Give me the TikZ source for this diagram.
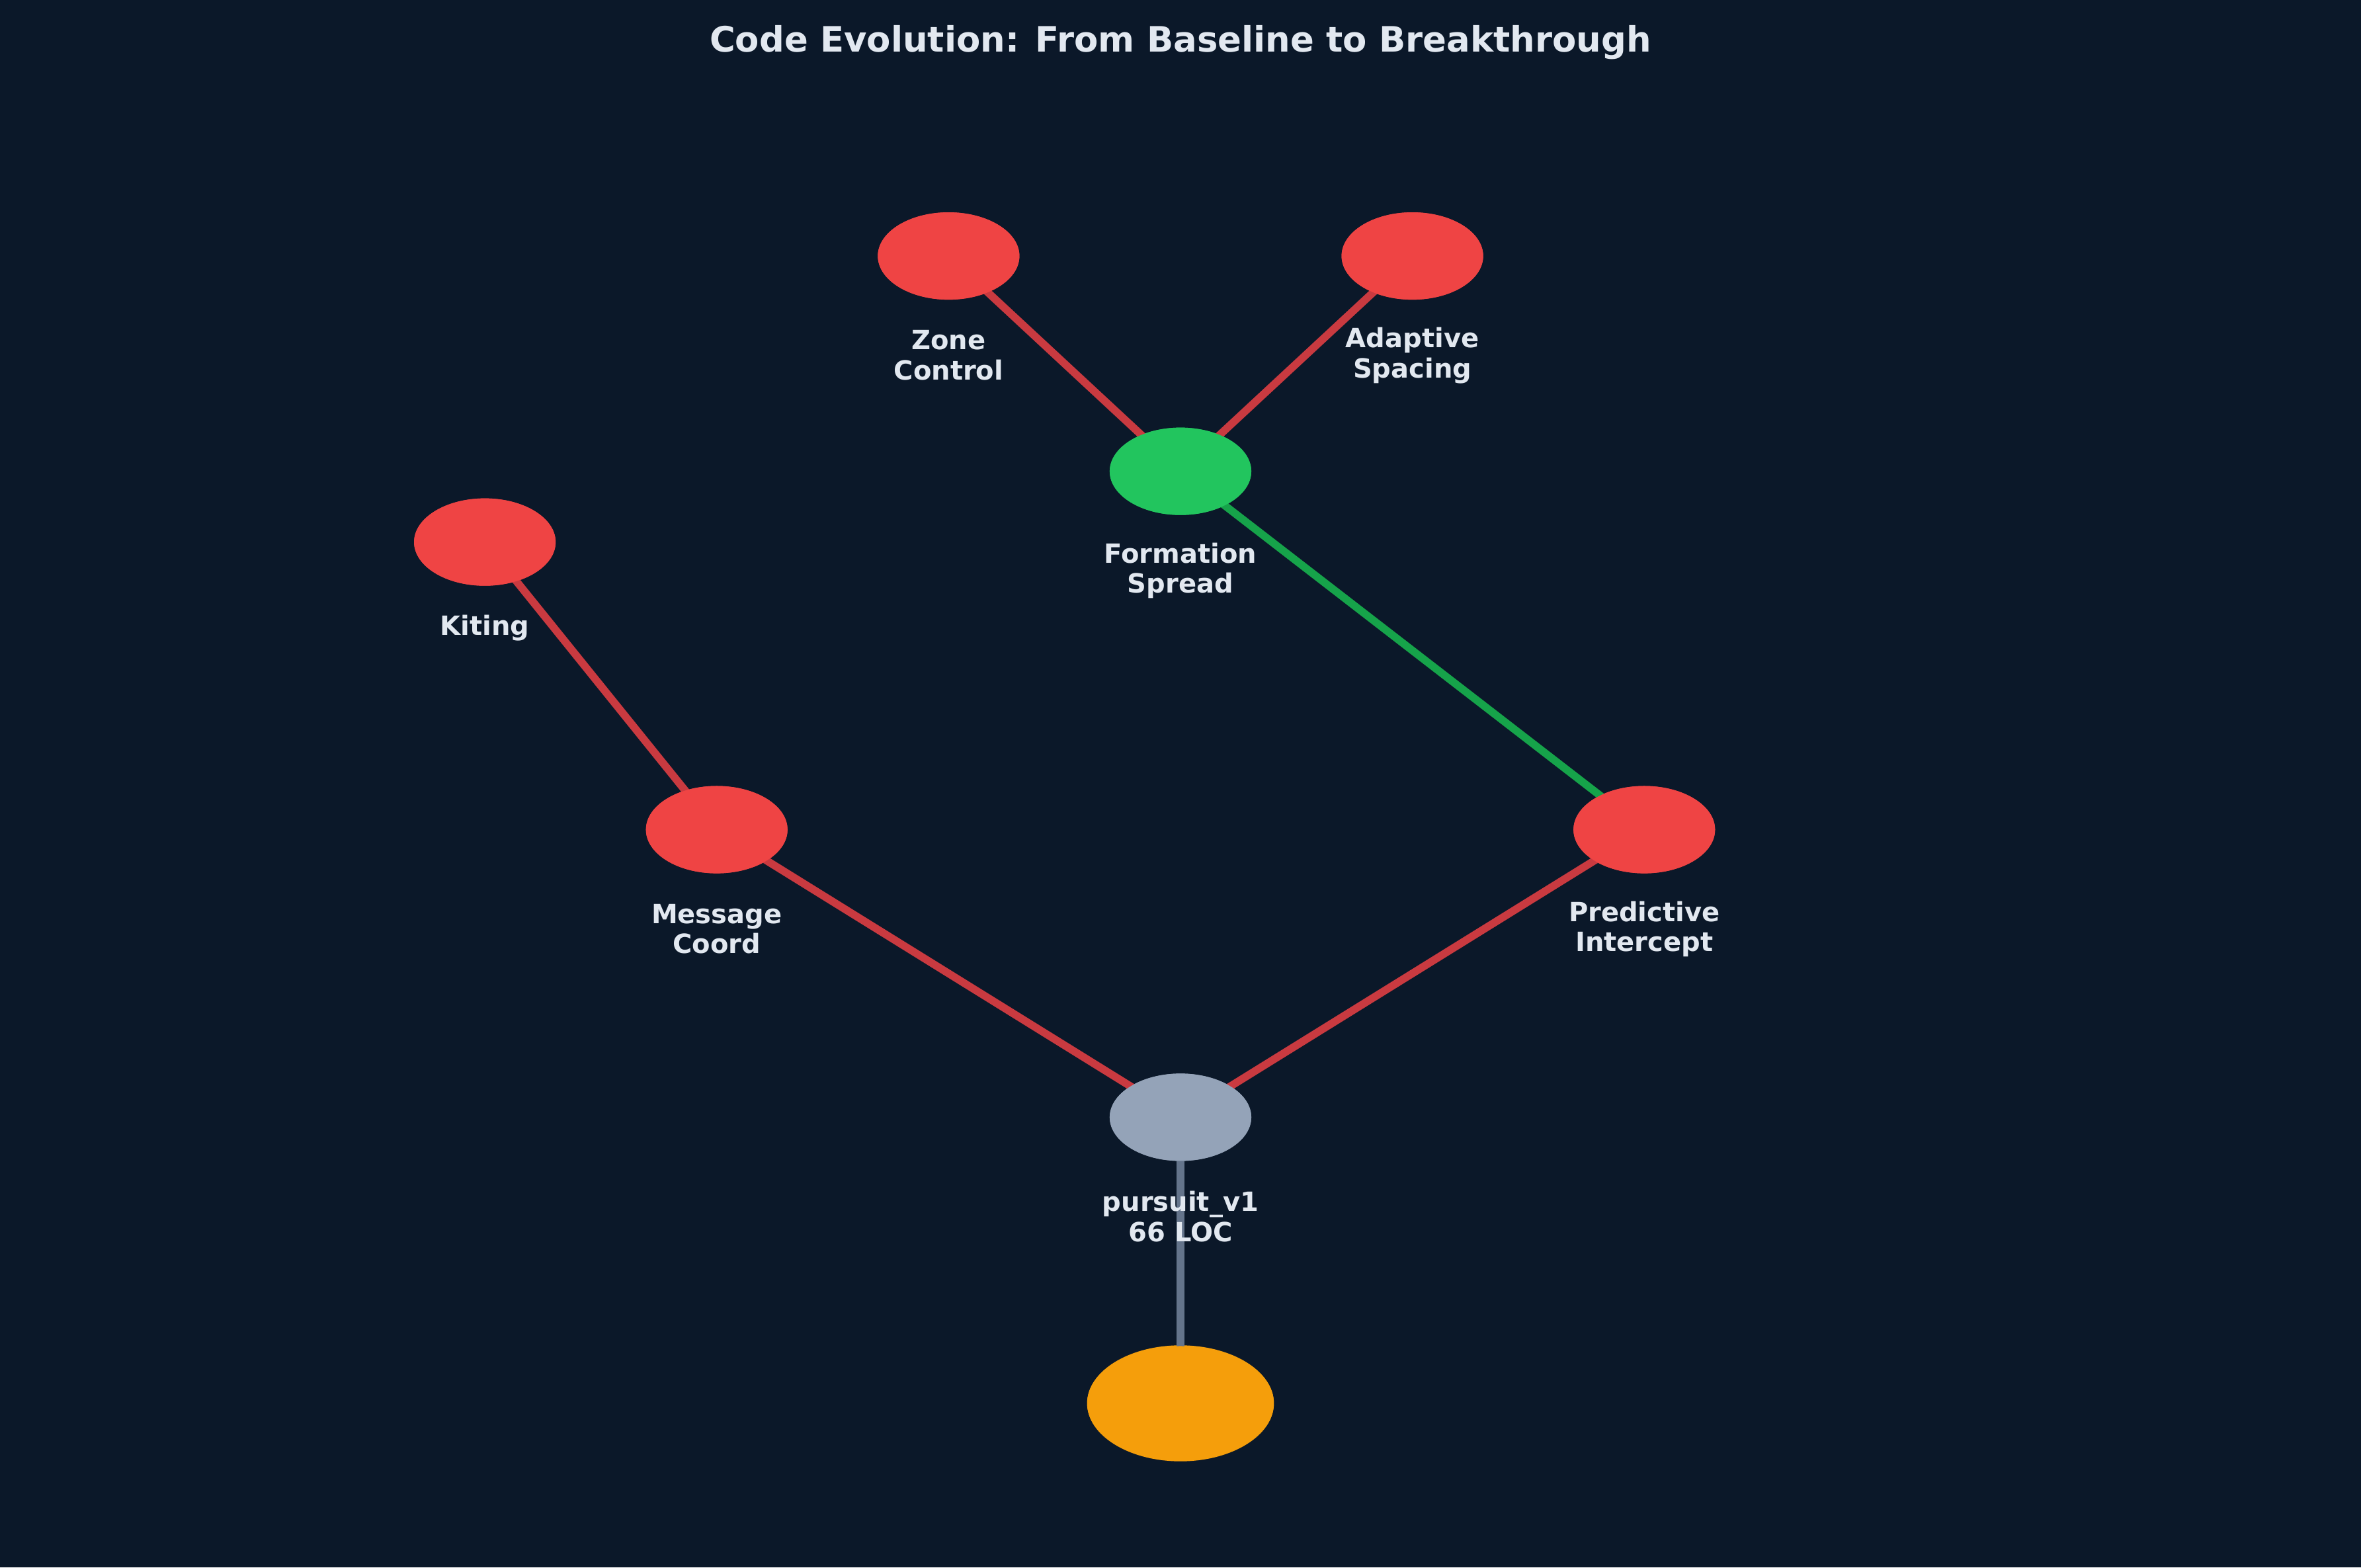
\documentclass[tikz,border=0pt]{standalone}
\usepackage{fontspec}
\setmainfont{DejaVu Sans}
\usetikzlibrary{shapes.geometric}
\definecolor{bgc}{HTML}{0B1829}
\definecolor{txtc}{HTML}{E2E8F0}
\definecolor{redn}{HTML}{EF4444}
\definecolor{rede}{HTML}{C93A40}
\definecolor{grnn}{HTML}{22C55E}
\definecolor{grne}{HTML}{16A34A}
\definecolor{gryn}{HTML}{94A3B8}
\definecolor{grye}{HTML}{64748B}
\definecolor{orgn}{HTML}{F59E0B}
\tikzset{
  blob/.style={ellipse,draw=none,minimum width=0.94cm,minimum height=0.58cm,inner sep=0pt},
  lbl/.style={text=txtc,font=\fontsize{5}{5.7}\selectfont\bfseries,align=center},
  edge/.style={line width=1.45pt}
}
\begin{document}
\begin{tikzpicture}[x=0.01cm,y=-0.01cm]
  \fill[bgc] (0,0) rectangle (1568,1041);
  \useasboundingbox (0,0) rectangle (1568,1041);
  \node[text=txtc,font=\fontsize{6.6}{7}\selectfont\bfseries] (title) at (784,28) {Code Evolution: From Baseline to Breakthrough};
  % nodes
  \node[blob,fill=redn] (zone) at (630,170) {};
  \node[blob,fill=redn] (adapt) at (938,170) {};
  \node[blob,fill=grnn] (form) at (784,313) {};
  \node[blob,fill=redn] (kite) at (322,360) {};
  \node[blob,fill=redn] (msg) at (476,551) {};
  \node[blob,fill=redn] (pred) at (1092,551) {};
  \node[blob,fill=gryn] (base) at (784,742) {};
  \node[blob,fill=orgn,minimum width=1.24cm,minimum height=0.77cm] (top) at (784,932) {};
  % edges
  \begin{scope}[on background layer/.style={}]
  \end{scope}
  \draw[edge,rede] (zone.center) -- (form.center);
  \draw[edge,rede] (adapt.center) -- (form.center);
  \draw[edge,grne] (form.center) -- (pred.center);
  \draw[edge,rede] (kite.center) -- (msg.center);
  \draw[edge,rede] (msg.center) -- (base.center);
  \draw[edge,rede] (pred.center) -- (base.center);
  \draw[edge,grye] (base.center) -- (top.center);
  % redraw nodes on top
  \foreach \n/\c in {zone/redn,adapt/redn,form/grnn,kite/redn,msg/redn,pred/redn,base/gryn}
    \fill[\c] (\n.center) ellipse (47 and 29);
  \fill[orgn] (top.center) ellipse (62 and 38);
  % labels
  \node[lbl] (zoneL) at (630,236) {Zone\\Control};
  \node[lbl] (adaptL) at (938,236) {Adaptive\\Spacing};
  \node[lbl] (formL) at (784,379) {Formation\\Spread};
  \node[lbl] (kiteL) at (322,417) {Kiting};
  \node[lbl] (msgL) at (476,617) {Message\\Coord};
  \node[lbl] (predL) at (1092,617) {Predictive\\Intercept};
  \node[lbl] (baseL) at (784,808) {pursuit\_v1\\66 LOC};
\end{tikzpicture}
\end{document}
